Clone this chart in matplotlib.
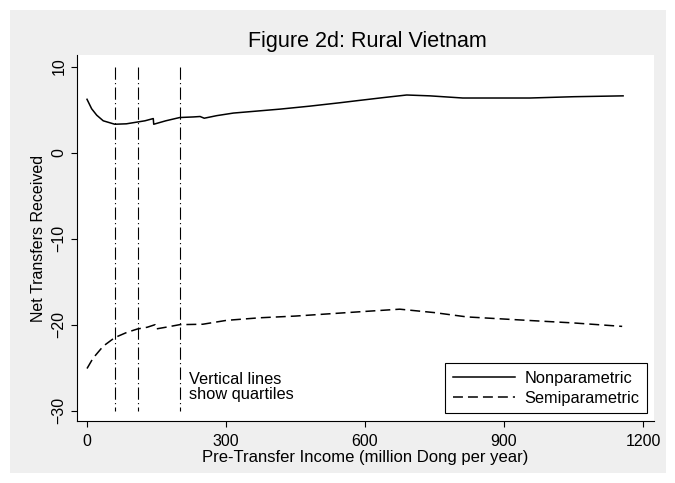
import matplotlib
matplotlib.use("Agg")
import matplotlib.pyplot as plt
from matplotlib.patches import Rectangle

plt.rcParams["font.family"] = ["Liberation Sans", "DejaVu Sans"]

# Nonparametric estimate
x_np = [0, 10, 21, 35, 60, 85, 109, 125, 143, 144, 170, 200, 230, 244, 253, 280,
        316, 360, 417, 480, 546, 583, 640, 690, 740, 811, 880, 956, 1050, 1157]
y_np = [6.2, 5.1, 4.35, 3.7, 3.3, 3.35, 3.56, 3.7, 3.96, 3.3, 3.7, 4.08, 4.15, 4.2,
        4.0, 4.3, 4.6, 4.8, 5.06, 5.4, 5.8, 6.04, 6.4, 6.7, 6.6, 6.35, 6.35, 6.35, 6.5, 6.6]

# Semiparametric estimate
x_sp = [0, 13, 35, 60, 86, 109, 130, 147, 149, 170, 200, 250, 301, 373, 450, 589,
        675, 750, 820, 950, 1050, 1155]
y_sp = [-25.1, -23.9, -22.5, -21.5, -20.9, -20.5, -20.3, -20.0, -20.5, -20.3, -20.0,
        -19.95, -19.5, -19.2, -19.0, -18.5, -18.2, -18.6, -19.1, -19.5, -19.8, -20.2]

quartiles = [60, 109, 200]
x_ticks = [0, 300, 600, 900, 1200]
y_ticks = [-30, -20, -10, 0, 10]

W, H = 675, 483
fig = plt.figure(figsize=(W / 100, H / 100), dpi=100, facecolor="white")
bg = Rectangle((10 / W, 10 / H), 656 / W, 463 / H, transform=fig.transFigure,
               facecolor="#efefef", edgecolor="none", zorder=-10)
fig.add_artist(bg)

ax = fig.add_axes([77 / W, 62 / H, 577 / W, 366 / H])
ax.set_zorder(5)
ax.set_facecolor("white")

for q in quartiles:
    ax.plot([q, q], [10, -30], color="black", lw=0.8,
            dashes=(11, 3, 1, 3), zorder=2)

ax.plot(x_np, y_np, color="black", lw=1.1, label="Nonparametric", zorder=3)
ax.plot(x_sp, y_sp, color="black", lw=1.1, dashes=(6.5, 3.3),
        label="Semiparametric", zorder=3)

ax.text(220, -25.5, "Vertical lines\nshow quartiles", fontsize=11.8,
        va="top", ha="left", linespacing=1.0)

ax.set_xlim(-21.6, 1223.7)
ax.set_ylim(-31.2, 11.35)
ax.set_xticks(x_ticks)
ax.set_yticks(y_ticks)
for s in ("top", "right"):
    ax.spines[s].set_visible(False)
ax.tick_params(direction="out", length=4, width=0.8, labelsize=11.5)
ax.tick_params(axis="x", pad=5)
for lab in ax.get_yticklabels():
    lab.set_rotation(90)
    lab.set_va("center")

ax.set_xlabel("Pre-Transfer Income (million Dong per year)", fontsize=12, labelpad=1)
ax.set_ylabel("Net Transfers Received", fontsize=11.5, labelpad=4)
fig.text(367 / W, 1 - 42 / H, "Figure 2d: Rural Vietnam", fontsize=15.5,
         ha="center", va="center")

leg = ax.legend(loc="lower right", bbox_to_anchor=(0.988, 0.022), fontsize=11.8,
                frameon=True, fancybox=False, edgecolor="black", framealpha=1,
                handlelength=3.8, handletextpad=0.6, borderpad=0.45,
                labelspacing=0.3, borderaxespad=0)
leg.get_frame().set_linewidth(0.8)

fig.savefig("out.png", dpi=100, facecolor="white")
